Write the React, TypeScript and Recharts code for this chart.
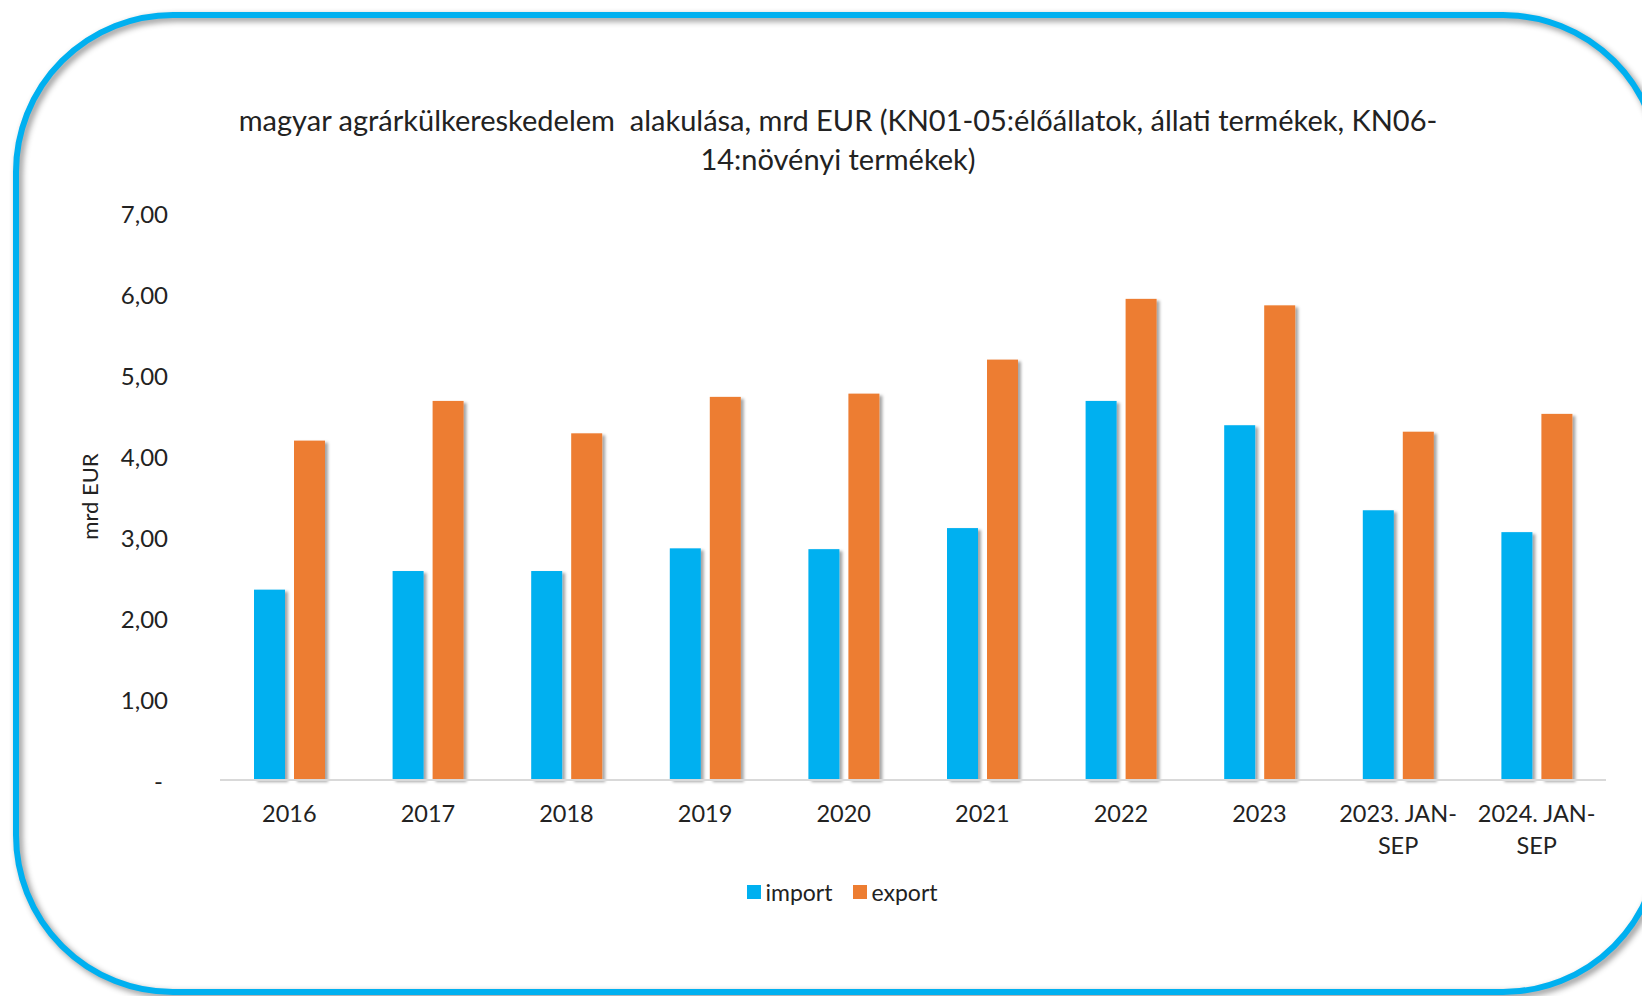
import React from "react"
import { BarChart, Bar, XAxis, YAxis, Legend } from "recharts"

const categories = [
  "2016",
  "2017",
  "2018",
  "2019",
  "2020",
  "2021",
  "2022",
  "2023",
  "2023. JAN-SEP",
  "2024. JAN-SEP",
]
const importValues = [2.35, 2.58, 2.58, 2.86, 2.85, 3.11, 4.68, 4.38, 3.33, 3.06]
const exportValues = [4.19, 4.68, 4.28, 4.73, 4.77, 5.19, 5.94, 5.86, 4.3, 4.52]
const yTicks = [0, 1, 2, 3, 4, 5, 6, 7]
const seriesNames = ["import", "export"]

const titleLines = [
  "magyar agrárkülkereskedelem  alakulása, mrd EUR (KN01-05:élőállatok, állati termékek, KN06-",
  "14:növényi termékek)",
]

const data = categories.map((name, i) => ({
  name,
  import: importValues[i],
  export: exportValues[i],
}))

const FONT = "Lato, 'Open Sans', sans-serif"
const TEXT = "#222222"
const BLUE = "#00B0F0"
const ORANGE = "#ED7D31"

// Excel style: "7,00", zero shown as a dash
function fmt(v: number) {
  if (v === 0) return "-"
  return v.toFixed(2).replace(".", ",")
}

function YTick(props: any) {
  const { x, y, payload } = props
  const v = Number(payload.value)
  return (
    <text
      x={v === 0 ? x - 5 : x}
      y={y}
      textAnchor="end"
      dominantBaseline="central"
      fontSize={24}
      fontFamily={FONT}
      fill={TEXT}
    >
      {fmt(v)}
    </text>
  )
}

// split "2023. JAN-SEP" into "2023. JAN-" / "SEP"
function splitLabel(s: string) {
  const i = s.indexOf("JAN-")
  if (i < 0) return [s]
  return [s.slice(0, i + 4), s.slice(i + 4)]
}

function XTick(props: any) {
  const { x, y, payload } = props
  const lines = splitLabel(String(payload.value))
  return (
    <g>
      {lines.map((ln, i) => (
        <text
          key={i}
          x={x}
          y={y + 33 + i * 32}
          textAnchor="middle"
          dominantBaseline="central"
          fontSize={23.5}
          fontFamily={FONT}
          fill={TEXT}
        >
          {ln}
        </text>
      ))}
    </g>
  )
}

function YLabel(props: any) {
  const vb = props.viewBox || {}
  const cx = (vb.x || 0) + 89
  const cy = (vb.y || 0) + (vb.height || 0) / 2
  return (
    <text
      x={cx}
      y={cy}
      transform={`rotate(-90, ${cx}, ${cy})`}
      textAnchor="middle"
      dominantBaseline="central"
      fontSize={22}
      fontFamily={FONT}
      fill={TEXT}
    >
      mrd EUR
    </text>
  )
}

function ShadowBar(props: any) {
  const { x, y, width, height, fill } = props
  if (!height || height <= 0) return null
  return <rect x={x} y={y} width={width} height={height} fill={fill} filter="url(#barShadow)" />
}

function renderLegend(props: any) {
  const items = [...(props.payload || [])].sort(
    (a: any, b: any) => seriesNames.indexOf(a.value) - seriesNames.indexOf(b.value)
  )
  return (
    <div
      style={{
        display: "flex",
        justifyContent: "center",
        alignItems: "center",
        gap: 20,
        fontFamily: FONT,
        fontSize: 23,
        color: TEXT,
      }}
    >
      {items.map((e: any) => (
        <span key={e.value} style={{ display: "inline-flex", alignItems: "center" }}>
          <span style={{ width: 14, height: 14, background: e.color, marginRight: 5, display: "inline-block" }} />
          {e.value}
        </span>
      ))}
    </div>
  )
}

export default function App() {
  return (
    <div
      style={{
        position: "absolute",
        left: 0,
        top: 0,
        width: 1642,
        height: 996,
        overflow: "hidden",
        background: "#ffffff",
        fontFamily: FONT,
      }}
    >
      <svg width={0} height={0} style={{ position: "absolute" }}>
        <defs>
          <filter id="barShadow" x="-20%" y="-5%" width="160%" height="115%">
            <feDropShadow dx={3} dy={2} stdDeviation={1.5} floodColor="#000000" floodOpacity={0.35} />
          </filter>
        </defs>
      </svg>

      <div
        style={{
          position: "absolute",
          left: 13,
          top: 12,
          width: 1650,
          height: 983,
          boxSizing: "border-box",
          border: `6px solid ${BLUE}`,
          borderRadius: 160,
          filter: "drop-shadow(3px 3px 3px rgba(0,0,0,0.45))",
        }}
      />

      <div
        style={{
          position: "absolute",
          left: 138,
          top: 100,
          width: 1400,
          textAlign: "center",
          fontSize: 29,
          lineHeight: "39px",
          color: TEXT,
          whiteSpace: "pre",
        }}
      >
        {titleLines.join("\n")}
      </div>

      <div style={{ position: "absolute", left: 0, top: 0 }}>
        <BarChart
          width={1642}
          height={996}
          data={data}
          margin={{ top: 213, right: 36, bottom: 0, left: 0 }}
          barSize={31}
          barGap={9}
        >
          <XAxis
            dataKey="name"
            interval={0}
            height={216}
            tickLine={false}
            tickSize={0}
            tickMargin={0}
            axisLine={{ stroke: "#D9D9D9", strokeWidth: 2 }}
            tick={<XTick />}
          />
          <YAxis
            width={220}
            domain={[0, 7]}
            ticks={yTicks}
            axisLine={false}
            tickLine={false}
            tickSize={0}
            tickMargin={52}
            tick={<YTick />}
            label={<YLabel />}
          />
          <Legend
            layout="horizontal"
            align="center"
            verticalAlign="middle"
            wrapperStyle={{ top: 878, left: 442, width: 800 }}
            content={renderLegend}
          />
          <Bar dataKey="import" name="import" fill={BLUE} shape={<ShadowBar />} isAnimationActive={false} />
          <Bar dataKey="export" name="export" fill={ORANGE} shape={<ShadowBar />} isAnimationActive={false} />
        </BarChart>
      </div>
    </div>
  )
}
